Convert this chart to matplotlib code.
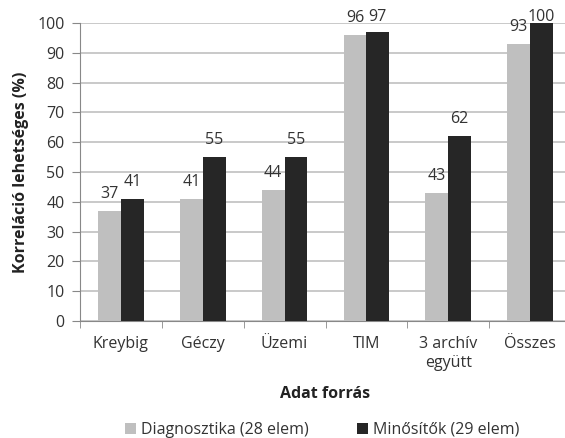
# Bar chart: correlation possibility by data source
import matplotlib.pyplot as plt
import numpy as np

categories = ['Kreybig', 'Géczy', 'Üzemi', 'TIM', '3 archív\negyütt', 'Összes']
diagnosztika = [37, 41, 44, 96, 43, 93]
minositok = [41, 55, 55, 97, 62, 100]

plt.rcParams['font.family'] = ['Open Sans', 'DejaVu Sans']
txt_color = '#333333'
fs = 11.5

fig = plt.figure(figsize=(5.65, 4.38), dpi=100)
ax = fig.add_axes([80 / 565, 1 - 321 / 438, 491 / 565, 298 / 438])

x = np.arange(len(categories))
w = 0.28
b1 = ax.bar(x - w / 2, diagnosztika, w, color='#bfbfbf', label='Diagnosztika (28 elem)', zorder=3)
b2 = ax.bar(x + w / 2, minositok, w, color='#262626', label='Minősítők (29 elem)', zorder=3)

# value labels; the top one is pushed down so it stays inside the picture
for bars, vals in ((b1, diagnosztika), (b2, minositok)):
    for rect, v in zip(bars, vals):
        ax.text(rect.get_x() + rect.get_width() / 2, min(v + 3, 99.3), str(v),
                ha='center', va='bottom', fontsize=fs, color=txt_color, zorder=4)

ax.set_xlim(-0.5, len(categories) - 0.5)
ax.set_ylim(0, 100)
ax.set_yticks(range(0, 101, 10))
ax.set_xticks(x)
ax.set_xticklabels(categories, fontsize=fs, color=txt_color, linespacing=1.2)
ax.set_xticks(np.arange(len(categories) + 1) - 0.5, minor=True)
ax.tick_params(axis='x', which='major', length=0, pad=11)
ax.tick_params(axis='x', which='minor', length=5, color='#888888')
ax.tick_params(axis='y', labelsize=fs, labelcolor=txt_color, length=6, color='#888888', pad=5)

ax.grid(axis='y', color='#c0c0c0', linewidth=1.2, zorder=0)
for side in ('top', 'right'):
    ax.spines[side].set_visible(False)
ax.spines['left'].set_color('#888888')
ax.spines['bottom'].set_color('#888888')

ax.set_ylabel('Korreláció lehetséges (%)', fontsize=fs, fontweight='bold', color='#222222', labelpad=6)
ax.set_xlabel('Adat forrás', fontsize=fs, fontweight='bold', color='#222222', labelpad=11)

fig.legend(loc='center', bbox_to_anchor=(322 / 565, 1 - 430 / 438), ncol=2, frameon=False,
           fontsize=fs, labelcolor=txt_color, handlelength=0.7, handleheight=0.7,
           handletextpad=0.3, columnspacing=3.0)

fig.savefig('out.png', dpi=100)
